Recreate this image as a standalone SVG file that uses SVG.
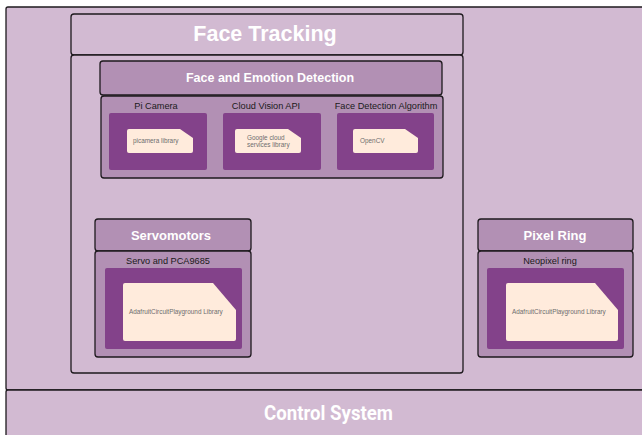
<svg xmlns="http://www.w3.org/2000/svg" width="642" height="435" viewBox="0 0 642 435">
  <style>
    .frame { fill: #d2bad2; stroke: #1e1a1e; stroke-width: 1.3; }
    .head { fill: #b290b4; stroke: #1e1a1e; stroke-width: 1.3; }
    .dark { fill: #83428a; }
    .card { fill: #ffebdc; }
    .title { font-family: "Liberation Sans", Arial, sans-serif; font-weight: bold; fill: #ffffff; text-anchor: middle; }
    .label { font-family: "Liberation Sans", Arial, sans-serif; font-size: 9.2px; fill: #1a1a1a; text-anchor: middle; }
    .small { font-family: "Liberation Sans", Arial, sans-serif; font-size: 6.4px; fill: #6e6e6e; }
  </style>
  <rect width="642" height="435" fill="#ffffff"/>

  <!-- outer container -->
  <g id="container">
    <rect class="frame" x="6" y="7" width="660" height="383" rx="2"/>
  </g>

  <!-- control system band -->
  <g id="control-system">
    <rect class="frame" x="6" y="390" width="660" height="60" rx="2"/>
    <text x="264" y="420" font-family="Roboto, 'Liberation Sans', sans-serif" font-weight="bold" font-size="21" fill="#ffffff" textLength="129" lengthAdjust="spacingAndGlyphs">Control System</text>
  </g>

  <!-- face tracking -->
  <g id="face-tracking">
    <rect class="frame" x="71" y="14" width="392" height="41" rx="3"/>
    <text class="title" x="265" y="41" font-size="21.5">Face Tracking</text>
    <rect class="frame" x="71" y="55" width="392" height="318" rx="3"/>
  </g>

  <g id="face-emotion-detection">
    <rect class="head" x="100" y="61" width="342" height="34" rx="3"/>
    <text class="title" x="270" y="82" font-size="12.5">Face and Emotion Detection</text>
    <rect class="head" x="101" y="96" width="342" height="82" rx="3"/>
  </g>

  <g id="pi-camera">
    <text class="label" x="156" y="109">Pi Camera</text>
    <rect class="dark" x="109" y="113" width="98" height="57" rx="2"/>
    <path class="card" d="M129,129 H180 L193,138 V151 Q193,153 191,153 H129 Q127,153 127,151 V131 Q127,129 129,129 Z"/>
    <text class="small" x="133" y="143">picamera library</text>
  </g>

  <g id="cloud-vision">
    <text class="label" x="266" y="109">Cloud Vision API</text>
    <rect class="dark" x="223" y="113" width="98" height="57" rx="2"/>
    <path class="card" d="M237,129 H288 L301,138 V151 Q301,153 299,153 H237 Q235,153 235,151 V131 Q235,129 237,129 Z"/>
    <text class="small" x="247" y="139.5">Google cloud</text>
    <text class="small" x="247" y="147">services library</text>
  </g>

  <g id="face-detection-algorithm">
    <text class="label" x="386" y="109">Face Detection Algorithm</text>
    <rect class="dark" x="337" y="113" width="97" height="57" rx="2"/>
    <path class="card" d="M355,129 H405 L418,138 V151 Q418,153 416,153 H355 Q353,153 353,151 V131 Q353,129 355,129 Z"/>
    <text class="small" x="360" y="143">OpenCV</text>
  </g>

  <!-- servomotors -->
  <g id="servomotors">
    <rect class="head" x="95" y="219" width="156" height="32" rx="3"/>
    <text class="title" x="171" y="240" font-size="13">Servomotors</text>
    <rect class="head" x="95" y="251" width="156" height="106" rx="3"/>
    <text class="label" x="168" y="264">Servo and PCA9685</text>
    <rect class="dark" x="105" y="268" width="137" height="81" rx="2"/>
    <path class="card" d="M125,283 H213 L236,310 V339 Q236,341 234,341 H125 Q123,341 123,339 V285 Q123,283 125,283 Z"/>
    <text class="small" x="129" y="314">AdafruitCircuitPlayground Library</text>
  </g>

  <!-- pixel ring -->
  <g id="pixel-ring">
    <rect class="head" x="478" y="219" width="155" height="32" rx="3"/>
    <text class="title" x="555" y="240" font-size="13">Pixel Ring</text>
    <rect class="head" x="478" y="251" width="155" height="106" rx="3"/>
    <text class="label" x="550" y="264">Neopixel ring</text>
    <rect class="dark" x="487" y="268" width="137" height="81" rx="2"/>
    <path class="card" d="M508,283 H595 L618,310 V339 Q618,341 616,341 H508 Q506,341 506,339 V285 Q506,283 508,283 Z"/>
    <text class="small" x="512" y="314">AdafruitCircuitPlayground Library</text>
  </g>

  <g id="connectors"/>
</svg>
